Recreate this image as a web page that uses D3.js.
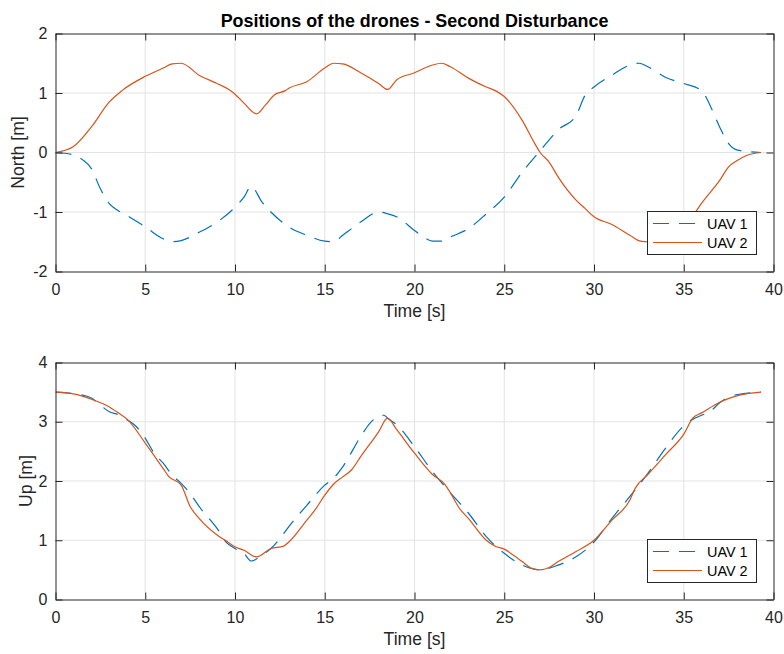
<!DOCTYPE html>
<html>
<head>
<meta charset="utf-8">
<script src="https://cdn.jsdelivr.net/npm/d3@7"></script>
<style>
  html, body { margin: 0; padding: 0; background: #fff; }
  svg { display: block; font-family: "Liberation Sans", Arial, Helvetica, sans-serif; }
</style>
</head>
<body>
<svg id="chart" width="784" height="654"></svg>
<script>
// ---------- DATA ----------
const titleText = "Positions of the drones - Second Disturbance";
const seriesNames = ["UAV 1", "UAV 2"];
const xTicks = [0, 5, 10, 15, 20, 25, 30, 35, 40];
const northTicks = [-2, -1, 0, 1, 2];
const upTicks = [0, 1, 2, 3, 4];

// North [m]
const northT1 = [0,1,1.5,2,2.5,3,3.5,4,5,6,6.5,7,8,9,10,10.5,10.9,11.5,12,13,14,15,15.5,16,17,18,18.5,19,20,20.5,21,21.5,22,23,24,25,26,27,28,29,29.5,30,31,32,32.5,33,34,35,36,36.5,37,37.5,38,39.3];
const northV1 = [0,-0.04,-0.12,-0.27,-0.61,-0.86,-0.98,-1.06,-1.25,-1.45,-1.5,-1.48,-1.34,-1.17,-0.92,-0.75,-0.57,-0.83,-1.0,-1.25,-1.39,-1.49,-1.5,-1.39,-1.17,-1.0,-1.03,-1.08,-1.31,-1.42,-1.49,-1.49,-1.42,-1.28,-1.03,-0.75,-0.33,0.03,0.38,0.62,0.96,1.1,1.30,1.47,1.5,1.44,1.26,1.16,1.04,0.77,0.43,0.15,0.04,0];
const northT2 = [0,1,2,3,3.7,5,6,6.5,7,8,9,9.7,10,10.5,11.2,11.7,12.2,12.8,13,14,15,15.5,16,17,18,18.5,19,20,21,21.5,22,23,24,24.5,25,26,26.7,27,27.5,28,29,29.5,30,31,32,32.6,33,34,35,35.7,36,37,37.5,38,38.5,39.3];
const northV2 = [0,0.1,0.43,0.85,1.04,1.28,1.42,1.49,1.5,1.30,1.16,1.05,0.98,0.83,0.65,0.8,0.97,1.04,1.08,1.19,1.42,1.5,1.49,1.34,1.16,1.06,1.22,1.34,1.47,1.5,1.44,1.25,1.1,1.04,0.94,0.54,0.15,0,-0.16,-0.41,-0.8,-0.94,-1.08,-1.21,-1.39,-1.49,-1.5,-1.48,-1.3,-0.98,-0.85,-0.47,-0.24,-0.13,-0.05,0];

// Up [m]
const upT1 = [0,1.5,2,2.5,3,3.5,4,4.5,5,5.5,6,6.5,7,7.5,8,9,9.5,10,10.5,10.9,11.5,12,12.5,13,14,15,15.5,16,17,17.5,18,18.3,18.5,19,20,21,22,23,24,25,26,27,28,29,30,31,32,33,34,35,35.5,36,36.5,37,38,39.3];
const upV1 = [3.5,3.45,3.4,3.28,3.17,3.12,3.03,2.92,2.72,2.47,2.3,2.1,1.96,1.79,1.57,1.2,0.97,0.86,0.78,0.65,0.75,0.86,1.03,1.23,1.59,1.93,2.05,2.24,2.75,2.97,3.09,3.11,3.06,2.95,2.58,2.16,1.8,1.46,1.06,0.78,0.58,0.5,0.58,0.72,0.97,1.37,1.74,2.13,2.56,2.93,3.04,3.11,3.18,3.32,3.46,3.5];
const upT2 = [0,1,2,3,3.5,4,5,6,6.3,7,7.5,8,9,9.5,10,10.5,11.2,12,12.7,13,14,14.5,15,15.5,16,16.5,17,18,18.5,19,20,21,21.7,22,22.5,23,24,24.5,25,25.5,26,26.5,27,27.5,28,29,30,31,32,32.3,33,34,35,35.5,36,37,38,39.3];
const upV2 = [3.5,3.47,3.38,3.25,3.15,3.04,2.64,2.21,2.08,1.93,1.57,1.37,1.09,0.99,0.89,0.83,0.72,0.86,0.9,0.97,1.34,1.53,1.76,1.95,2.07,2.19,2.41,2.83,3.06,2.87,2.47,2.11,1.94,1.80,1.54,1.37,1.0,0.9,0.85,0.75,0.64,0.53,0.5,0.54,0.64,0.81,1.0,1.34,1.68,1.88,2.11,2.45,2.79,3.06,3.15,3.33,3.44,3.5];

// ---------- STYLE / LAYOUT ----------
const colors = ["#0072BD", "#D95319"];
const dashes = ["16,10", null];
const axisColor = "#262626";
const gridColor = "#e3e3e3";
const svg = d3.select("#chart");
const fmt = d => String(d);

const xLeft = 55.5, xRight = 773.5;

const panels = [
  { top: 33.5, bottom: 271.5, domain: [-2, 2], ticks: northTicks, ylabel: "North [m]",
    series: [[northT1, northV1], [northT2, northV2]], legend: { x: 647, y: 211 }, ylabelX: 23.5 },
  { top: 362.5, bottom: 599.5, domain: [0, 4], ticks: upTicks, ylabel: "Up [m]",
    series: [[upT1, upV1], [upT2, upV2]], legend: { x: 647, y: 539 }, ylabelX: 31.5 }
];

const x = d3.scaleLinear().domain([0, 40]).range([xLeft, xRight]);

panels.forEach((p, pi) => {
  const y = d3.scaleLinear().domain(p.domain).range([p.bottom, p.top]);
  const g = svg.append("g");
  const h = p.bottom - p.top, w = xRight - xLeft;

  // grid
  g.append("g").selectAll("line").data(xTicks.slice(1, -1)).join("line")
    .attr("x1", d => x(d)).attr("x2", d => x(d)).attr("y1", p.top).attr("y2", p.bottom)
    .attr("stroke", gridColor).attr("stroke-width", 1);
  g.append("g").selectAll("line").data(p.ticks.slice(1, -1)).join("line")
    .attr("y1", d => y(d)).attr("y2", d => y(d)).attr("x1", xLeft).attr("x2", xRight)
    .attr("stroke", gridColor).attr("stroke-width", 1);

  // clip
  const clipId = "clip" + pi;
  svg.append("clipPath").attr("id", clipId).append("rect")
    .attr("x", xLeft).attr("y", p.top).attr("width", w).attr("height", h);

  // lines
  const line = d3.line().x(d => x(d[0])).y(d => y(d[1])).curve(d3.curveMonotoneX);
  p.series.forEach((s, si) => {
    const pts = s[0].map((t, i) => [t, s[1][i]]);
    g.append("path").datum(pts).attr("d", line)
      .attr("clip-path", `url(#${clipId})`)
      .attr("fill", "none").attr("stroke", colors[si]).attr("stroke-width", 1.2)
      .attr("stroke-dasharray", dashes[si]);
  });

  // axes (inward ticks on all sides)
  const tl = 7;
  const ax = [
    d3.axisBottom(x).tickValues(xTicks).tickSizeInner(-tl).tickSizeOuter(0).tickPadding(12).tickFormat(fmt),
    d3.axisTop(x).tickValues(xTicks).tickSizeInner(-tl).tickSizeOuter(0).tickFormat(""),
    d3.axisLeft(y).tickValues(p.ticks).tickSizeInner(-tl).tickSizeOuter(0).tickPadding(8).tickFormat(fmt),
    d3.axisRight(y).tickValues(p.ticks).tickSizeInner(-tl).tickSizeOuter(0).tickFormat("")
  ];
  const trans = [`translate(0,${p.bottom})`, `translate(0,${p.top})`, `translate(${xLeft},0)`, `translate(${xRight},0)`];
  ax.forEach((a, i) => {
    const ag = g.append("g").attr("transform", trans[i]).call(a);
    ag.select(".domain").attr("stroke", axisColor).attr("stroke-width", 1);
    ag.selectAll(".tick line").attr("stroke", axisColor).attr("stroke-width", 1);
    ag.selectAll(".tick text").attr("fill", axisColor).attr("font-size", 16)
      .attr("font-family", "Liberation Sans, Arial, sans-serif");
  });

  // x label
  g.append("text").attr("x", (xLeft + xRight) / 2).attr("y", p.bottom + 45)
    .attr("text-anchor", "middle").attr("font-size", 17.6).attr("fill", axisColor)
    .text("Time [s]");
  // y label
  g.append("text").attr("transform", `translate(${p.ylabelX},${(p.top + p.bottom) / 2}) rotate(-90)`)
    .attr("text-anchor", "middle").attr("font-size", 17.6).attr("fill", axisColor)
    .text(p.ylabel);

  // legend
  const lg = g.append("g").attr("transform", `translate(${p.legend.x},${p.legend.y})`);
  lg.append("rect").attr("x", 0.5).attr("y", 0.5).attr("width", 109).attr("height", 43)
    .attr("fill", "#fff").attr("stroke", axisColor).attr("stroke-width", 1);
  seriesNames.forEach((n, i) => {
    const yy = 12.5 + i * 19;
    lg.append("line").attr("x1", 6).attr("x2", 55).attr("y1", yy).attr("y2", yy)
      .attr("stroke", colors[i]).attr("stroke-width", 1.2).attr("stroke-dasharray", dashes[i]);
    lg.append("text").attr("x", 60).attr("y", yy).attr("dy", "0.36em")
      .attr("font-size", 14.4).attr("fill", "#000").text(n);
  });
});

// title
svg.append("text").attr("x", (xLeft + xRight) / 2).attr("y", 26.5)
  .attr("text-anchor", "middle").attr("font-size", 17.9).attr("font-weight", "bold")
  .attr("fill", "#000").text(titleText);
</script>
</body>
</html>
